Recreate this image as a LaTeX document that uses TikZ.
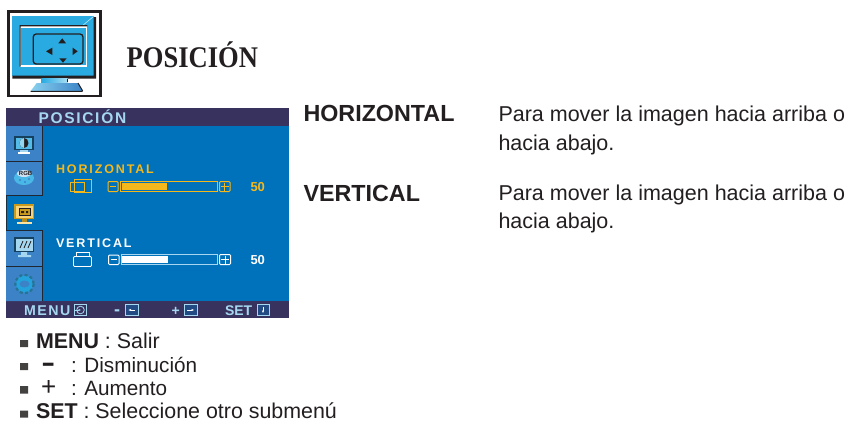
\documentclass[tikz,border=0pt]{standalone}
\usepackage{fontspec}
\usetikzlibrary{arrows.meta}
\setmainfont{Liberation Sans}
\newfontfamily\serifbf[FakeStretch=0.885]{Liberation Serif}
\newfontfamily\osdfont[LetterSpace=15]{Liberation Sans}
\newfontfamily\osdbig[LetterSpace=11]{Liberation Sans}
\definecolor{osdblue}{HTML}{0071BB}
\definecolor{osddark}{HTML}{38325F}
\definecolor{cellblue}{HTML}{3B83C6}
\definecolor{osdyellow}{HTML}{F4B81C}
\definecolor{osdlight}{HTML}{A5D8F0}
\definecolor{screenblue}{HTML}{29ABE2}
\definecolor{inkdark}{HTML}{231F20}
\tikzset{
  x=1pt,y=-1pt,
  every node/.style={inner sep=0pt,outer sep=0pt,anchor=base west,text=inkdark},
  headtxt/.style={font=\fontsize{23.3}{24}\selectfont\bfseries},
  bodytxt/.style={font=\fontsize{21.5}{24}\selectfont},
  listtxt/.style={font=\fontsize{21.4}{24}\selectfont},
  listsmall/.style={font=\fontsize{20.7}{24}\selectfont},
  osdlabel/.style={font=\fontsize{12.5}{13}\osdfont\bfseries},
  osdtitle/.style={font=\fontsize{15.5}{16}\osdbig\bfseries,text=osdlight},
  foottxt/.style={font=\fontsize{14}{14}\selectfont\bfseries,text=osdlight},
  valtxt/.style={font=\fontsize{13}{13}\selectfont\bfseries},
  cellline/.style={draw=inkdark!90!osdblue,line width=0.8},
  keybox/.style={draw=osdlight,line width=1,fill=osddark!60!osdblue},
  bullet/.style={fill=inkdark!85,draw=none},
}
\begin{document}
\begin{tikzpicture}
\useasboundingbox (0,0) rectangle (849,421);
\fill[white] (0,0) rectangle (849,421);
% ---- monitor icon
\draw[inkdark,line width=2.7,fill=white] (8.3,11.3) rectangle (100.4,96);
\fill[screenblue] (12.4,16) rectangle (93.5,75.5);
\fill[inkdark] (93.5,17) rectangle (96,78.5) (12.4,75.5) rectangle (96,78.5);
\draw[white!70!screenblue,line width=.6] (82,26) -- (93.5,16.5);
\fill[white] (19.5,25) rectangle (87.3,66.7);
\fill[screenblue] (21,27.5) rectangle (85.8,65.2);
\fill[inkdark] (19.5,25) rectangle (87.3,26.3) (19.5,25) rectangle (20.5,66.7);
\draw[inkdark,line width=1.3,rounded corners=3,fill=screenblue] (33.2,34) rectangle (83,64);
\fill[inkdark] (62.2,38.3) -- (66,43.3) -- (58.3,43.3) -- cycle
  (46,51.3) -- (52.3,47.7) -- (52.3,55) -- cycle
  (77.7,51.3) -- (72.7,47.7) -- (72.7,55) -- cycle
  (63,62.7) -- (59.3,58.3) -- (66.7,58.3) -- cycle;
\shade[left color=screenblue,right color=white!60!screenblue] (41.7,78.5) rectangle (67.5,83);
\draw[inkdark,line width=.8] (67.6,78.5) -- (67.6,82);
\shade[left color=white!45!screenblue,right color=cellblue] (36.7,83) -- (78,83) -- (82.7,91) -- (30.7,91) -- cycle;
\draw[inkdark,line width=1] (30.7,91.4) -- (82.7,91.4) (78,83) -- (82.7,91);
\node[font=\fontsize{30}{32}\serifbf\bfseries] (title) at (126.7,67.5) {POSICIÓN};
% ---- OSD panel
\fill[osdblue] (6,108) rectangle (289,318);
\fill[osddark] (6,108) rectangle (289,126);
\fill[osddark] (6,301) rectangle (289,318);
\fill[cellblue] (6,126) rectangle (42,195) (6,230) rectangle (42,301);
\draw[cellline] (6,161) -- (42,161) (6,195.5) -- (42.5,195.5) (42.5,126) -- (42.5,195.5);
\draw[cellline] (6,230.5) -- (42.5,230.5) (6,266.5) -- (42.5,266.5) (42.5,230.5) -- (42.5,301);
\fill[inkdark,opacity=.8] (6,195.5) rectangle (7,230);
\node[osdtitle] (osdhead) at (38.5,123) {POSICIÓN};
% cell icons
\fill[inkdark!60!osdblue] (14,136) rectangle (34,150);
\fill[screenblue!80!white] (16,137.5) rectangle (32,148.5);
\fill[inkdark] (24,143) circle[x radius=4.5,y radius=5];
\fill[screenblue!50!white] (24,138) arc[start angle=270,end angle=90,x radius=4.5,y radius=5] -- cycle;
\fill[osdlight] (20,150) rectangle (28,152);
\fill[white] (18,152) rectangle (30,153.5);
% palette
\fill[screenblue!85!white] (24,178) ellipse[x radius=10,y radius=7];
\fill[white!75!cellblue] (24,173.5) ellipse[x radius=7,y radius=3.5];
\node[font=\fontsize{6}{6}\selectfont\bfseries,text=inkdark] (rgbicon) at (19,175.5) {RGB};
\fill[cellblue] (20,180) circle(1.1) (25,182) circle(1.1) (29,179) circle(1.1);
% selected icon
\fill[osdyellow!80!inkdark] (14,204) rectangle (34,219);
\fill[osdyellow!60!white] (15.5,205.5) rectangle (32.5,217.5);
\fill[osdyellow!80!inkdark,draw=inkdark,line width=.6] (19,208) rectangle (30,215);
\fill[inkdark] (26,211) rectangle (28,213) (21,211) rectangle (24,213);
\fill[osdyellow!70!inkdark] (22,219) rectangle (27,222);
\fill[osdyellow!40!white] (17,222) rectangle (32,224);
% fourth icon
\fill[inkdark!60!osdblue] (14,237) rectangle (34,252);
\fill[osdlight] (15.5,238.5) rectangle (32.5,250.5);
\draw[inkdark,line width=.8] (20,248) -- (23,241) (24,248) -- (27,241) (28,248) -- (31,241);
\fill[osdlight] (21,252) rectangle (27,255) (18,255) rectangle (31,257);
% gear
\fill[screenblue!85!osdblue] (24.5,284) circle(8.5);
\draw[screenblue!60!inkdark,line width=2.2,dash pattern=on 3pt off 2.4pt] (24.5,284) circle(9.2);
\fill[cellblue] (24.5,284) circle[x radius=5,y radius=3.5];
% horizontal row
\node[osdlabel,text=osdyellow] (hlabel) at (56,173) {HORIZONTAL};
\draw[osdyellow,line width=.9] (74,179.5) rectangle (91.5,192);
\draw[osdyellow,line width=.9] (70.5,182) rectangle (84,191);
\draw[osdyellow,line width=1,rounded corners=1] (108,181.5) rectangle (118,191.5);
\draw[osdyellow,line width=1] (110,186.7) -- (116,186.7);
\draw[osdyellow,line width=1] (120.5,181.5) rectangle (217,191.3);
\fill[osdyellow] (121.5,183) rectangle (167,190);
\draw[osdyellow,line width=1,rounded corners=1] (219.5,181.5) rectangle (230,191.5);
\draw[osdyellow,line width=1] (221,186.5) -- (228.5,186.5) (224.7,182.5) -- (224.7,190.5);
\node[valtxt,text=osdyellow] (hval) at (250.5,191) {50};
% vertical row
\node[osdlabel,text=white] (vlabel) at (56,247) {VERTICAL};
\draw[white,line width=.9] (76,252) rectangle (89,260);
\draw[white,line width=.9,rounded corners=1,fill=osdblue] (73.5,256.5) rectangle (91.5,266.5);
\draw[white,line width=1,rounded corners=1] (108.5,255) rectangle (119,264.5);
\draw[white,line width=1] (110.5,259.7) -- (117,259.7);
\draw[osdlight,line width=1] (121,254.5) rectangle (217.5,264);
\fill[white] (122,255.5) rectangle (168,262.5);
\draw[white,line width=1,rounded corners=1] (219.5,254.5) rectangle (230.5,264.5);
\draw[white,line width=1] (221,259.5) -- (229,259.5) (225,255.5) -- (225,263.5);
\node[valtxt,text=white] (vval) at (250.5,264) {50};
% footer
\node[foottxt,font=\fontsize{14.2}{14}\osdbig\bfseries] (fmenu) at (24,315.5) {MENU};
\draw[keybox,fill=none] (74.5,304.5) rectangle (86.5,315.5);
\draw[osdlight,line width=.8] (80.5,310) circle(3.8);
\draw[osdlight,line width=.8,-{Latex[length=3pt]}] (75,310) -- (81.5,310);
\node[foottxt,font=\fontsize{18}{14}\selectfont\bfseries] (fminus) at (114,315.5) {-};
\draw[keybox] (125.5,304.5) rectangle (138,315.5);
\draw[white,line width=.9,{Latex[length=3pt]}-] (128,310) -- (135,310);
\node[foottxt] (fplus) at (171.5,315) {+};
\draw[keybox] (184.5,304.5) rectangle (197,315.5);
\draw[white,line width=.9,-{Latex[length=3pt]}] (187,310) -- (194.5,310);
\node[foottxt] (fset) at (225,315.5) {SET};
\draw[keybox] (257,304.5) rectangle (269,315.5);
\draw[white,line width=.9,-{Latex[length=3pt]}] (263,306.5) -- (263,313.5);
% right text
\node[headtxt] (hhead) at (303.5,121) {HORIZONTAL};
\node[bodytxt] (hbody1) at (498.5,121) {Para mover la imagen hacia arriba o};
\node[bodytxt] (hbody2) at (498.5,150) {hacia abajo.};
\node[headtxt] (vhead) at (303.5,201) {VERTICAL};
\node[bodytxt] (vbody1) at (498.5,200) {Para mover la imagen hacia arriba o};
\node[bodytxt] (vbody2) at (498.5,228) {hacia abajo.};
% bullet list
\fill[bullet] (20,340) rectangle (28,347) (20,363) rectangle (28,370) (20,386) rectangle (28,393.5) (20,410.5) rectangle (28,417.5);
\node[listtxt] (l1) at (36,348) {\textbf{MENU} : Salir};
\node[font=\fontsize{26}{26}\selectfont\bfseries,xscale=1.6,transform shape] (l2a) at (41.5,371) {-};
\node[listsmall] (l2) at (71,372) {: Disminución};
\node[font=\fontsize{26}{26}\selectfont] (l3a) at (41,395.5) {+};
\node[listsmall] (l3) at (71,395) {: Aumento};
\node[listtxt] (l4) at (36,418.5) {\textbf{SET} : Seleccione otro submenú};
\end{tikzpicture}
\end{document}
